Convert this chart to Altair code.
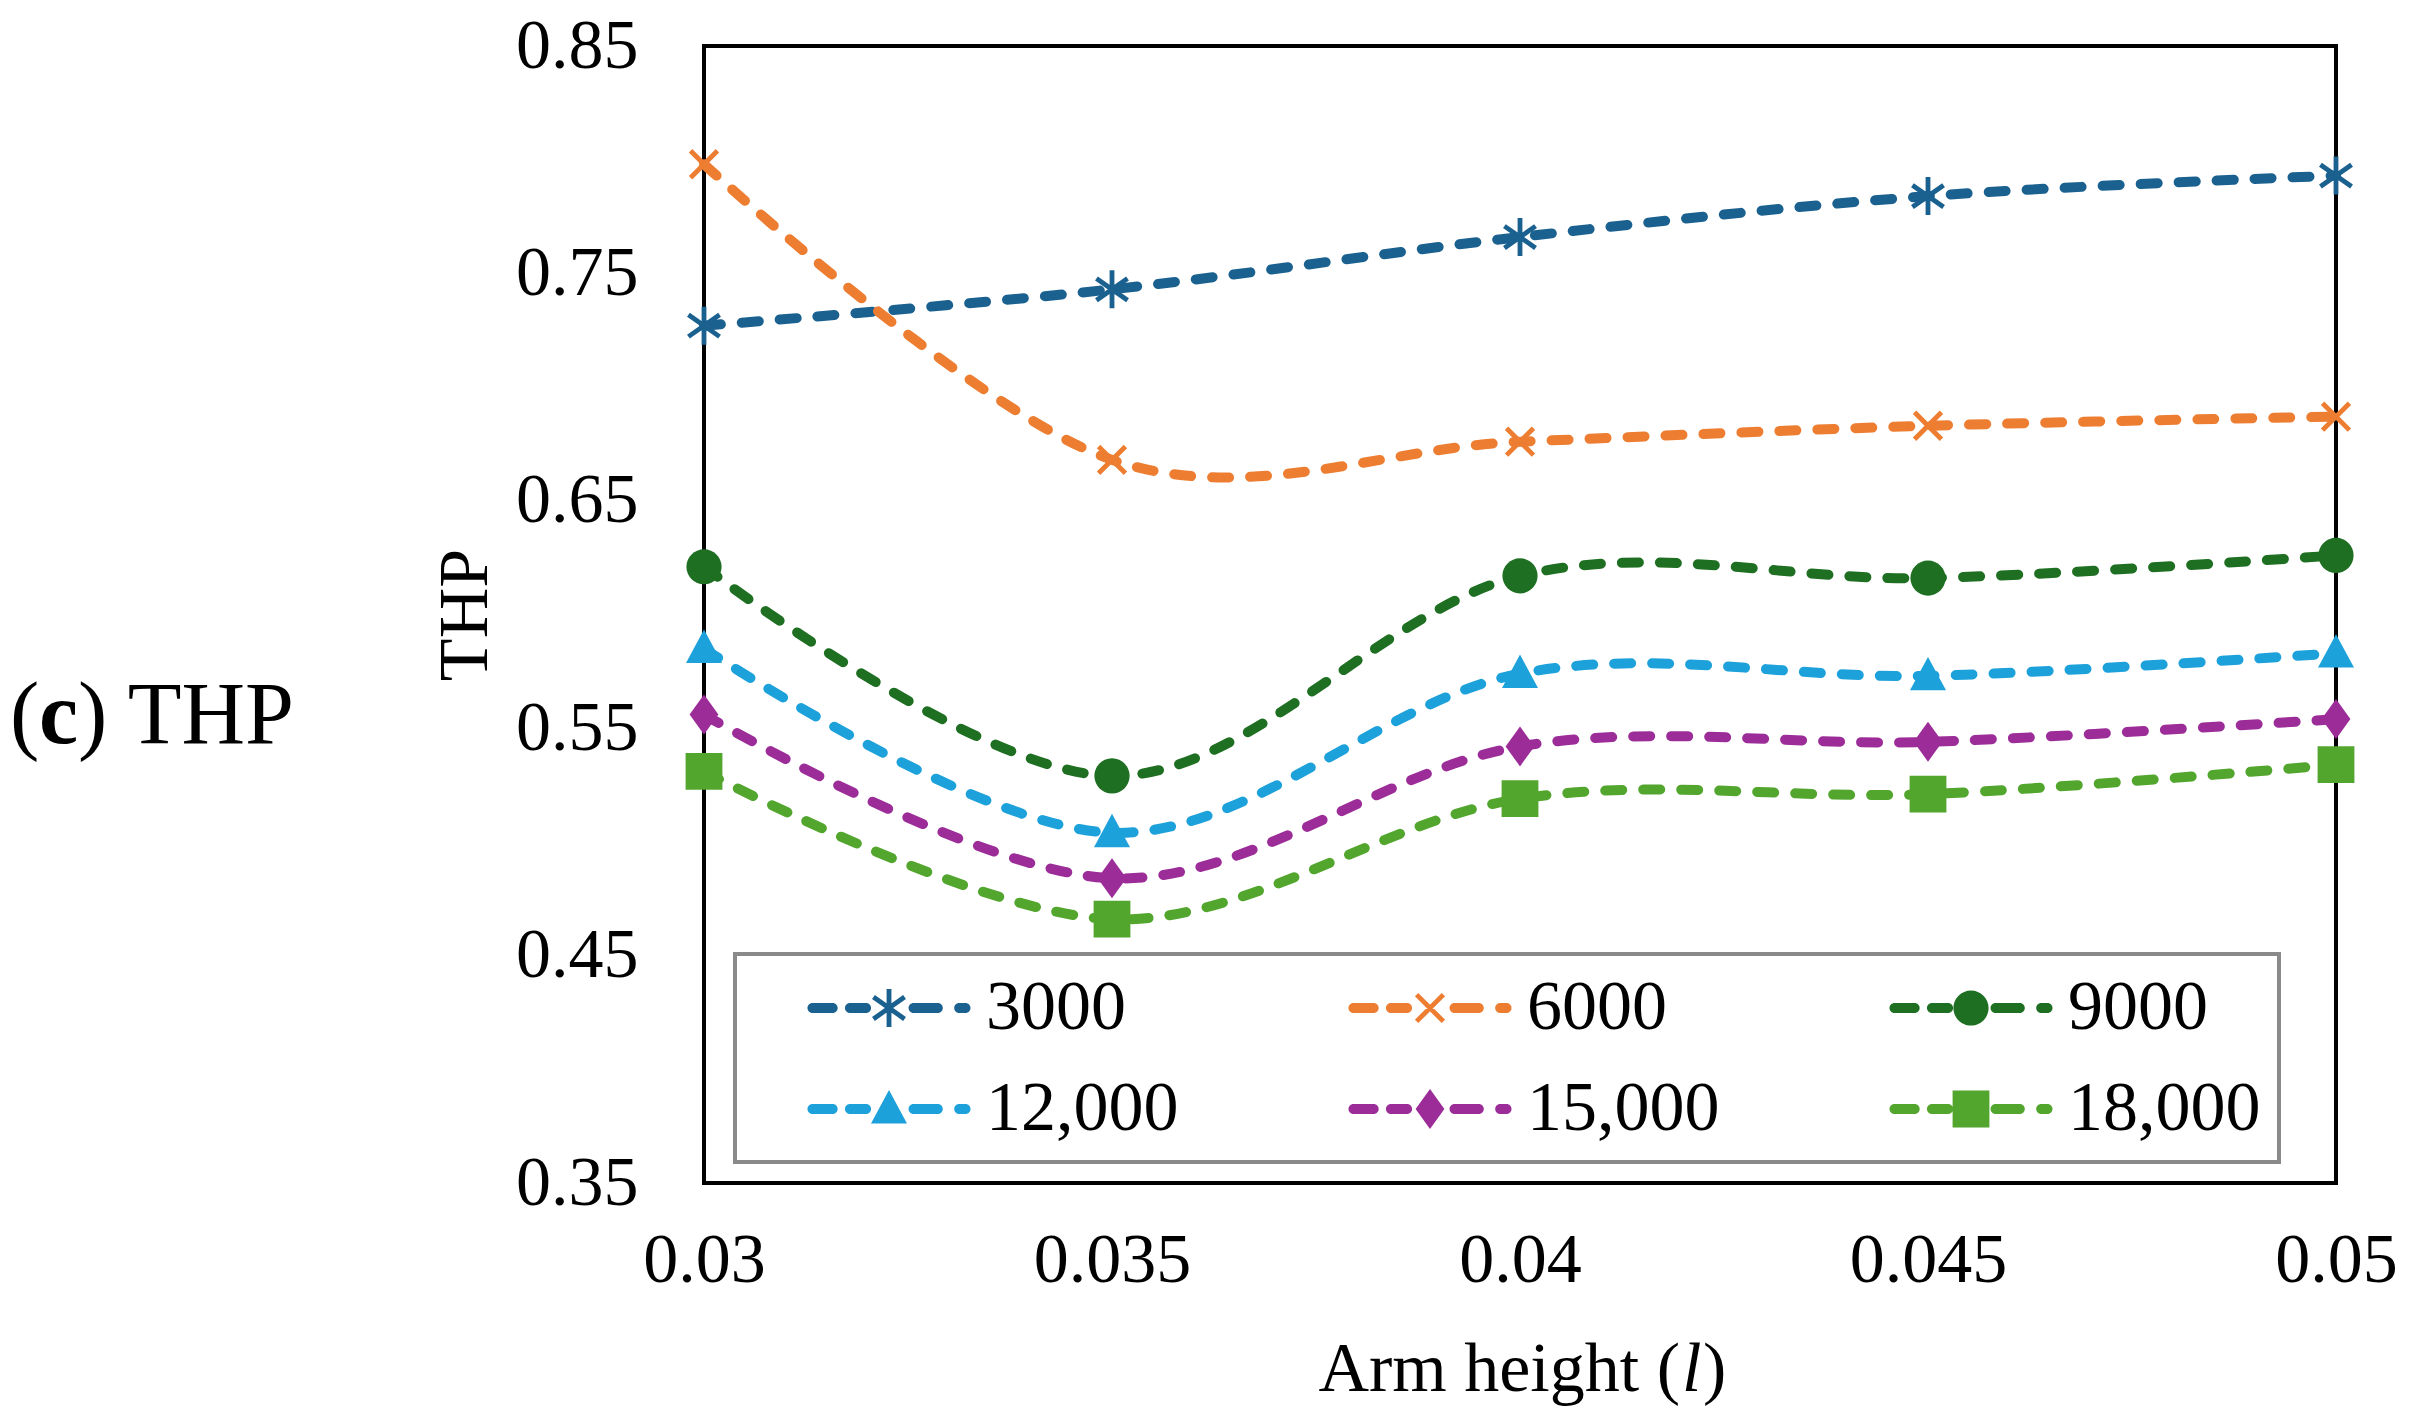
import math
import altair as alt
import pandas as pd


# Arm height (x) and THP per number of cycles
arm_height = [0.03, 0.035, 0.04, 0.045, 0.05]
series = ['3000', '6000', '9000', '12,000', '15,000', '18,000']
thp_3000 = [0.727, 0.743, 0.766, 0.784, 0.793]
thp_6000 = [0.798, 0.668, 0.676, 0.683, 0.687]
thp_9000 = [0.621, 0.529, 0.617, 0.616, 0.626]
thp_12000 = [0.585, 0.504, 0.574, 0.573, 0.583]
thp_15000 = [0.556, 0.484, 0.542, 0.544, 0.554]
thp_18000 = [0.531, 0.466, 0.519, 0.521, 0.534]
y_ticks = [0.35, 0.45, 0.55, 0.65, 0.75, 0.85]

colors = ['#1A6190', '#ED7D31', '#1E6F22', '#1DA1DB', '#9B2C98', '#52A62D']
markers = ['star', 'x', 'circle', 'triangle', 'diamond', 'square']

rows = []
for name, vals in zip(series, [thp_3000, thp_6000, thp_9000, thp_12000, thp_15000, thp_18000]):
  for x, v in zip(arm_height, vals):
    rows.append({'series': name, 'Series': name, 'arm': x, 'thp': v})
df = pd.DataFrame(rows)

FONT = 'Liberation Serif'
MARKER_SIZE = 1600          # 40 px marker box
LEGEND_SYMBOL_SIZE = 4900   # 70 px nominal legend symbol (path overflows it)
W, H = 1632, 1137


'''
Marker shapes as custom SVG paths (unit box -1..1)
'''
def f(v):
  return f'{v:.3f}'

def bar(angle, half_len, half_w, s=1.0):
  a = math.radians(angle)
  ca, sa = math.cos(a), math.sin(a)
  pts = [(-half_len, -half_w), (half_len, -half_w), (half_len, half_w), (-half_len, half_w)]
  pts = [((x * ca - y * sa) * s, (x * sa + y * ca) * s) for x, y in pts]
  return 'M' + ' L'.join(f'{f(x)},{f(y)}' for x, y in pts) + ' Z'

def poly(pts, s=1.0):
  return 'M' + ' L'.join(f'{f(x * s)},{f(y * s)}' for x, y in pts) + ' Z'

def marker_path(kind, s=1.0):
  if kind == 'star':
    return ' '.join(bar(a, 0.95, 0.12, s) for a in (90, 35, 145))
  if kind == 'x':
    return ' '.join(bar(a, 0.95, 0.12, s) for a in (45, 135))
  if kind == 'circle':
    r = 0.88 * s
    return f'M{f(r)},0 A{f(r)},{f(r)} 0 1,1 {f(-r)},0 A{f(r)},{f(r)} 0 1,1 {f(r)},0 Z'
  if kind == 'triangle':
    return poly([(0, -0.95), (0.9, 0.72), (-0.9, 0.72)], s)
  if kind == 'diamond':
    return poly([(0, -1.0), (0.72, 0), (0, 1.0), (-0.72, 0)], s)
  return poly([(-0.92, -0.92), (0.92, -0.92), (0.92, 0.92), (-0.92, 0.92)], s)

def dash(a, b, h):
  return (f'M{f(a + h)},{f(-h)} L{f(b - h)},{f(-h)} A{f(h)},{f(h)} 0 0,1 {f(b - h)},{f(h)} '
          f'L{f(a + h)},{f(h)} A{f(h)},{f(h)} 0 0,1 {f(a + h)},{f(-h)} Z')

'''
Legend symbol: "--marker--" drawn as one path, in pixels relative to a 70 px box
'''
def legend_path(kind):
  unit = math.sqrt(LEGEND_SYMBOL_SIZE) / 2
  half = 81.5 / unit
  h = 5 / unit
  spans = [(-1.0, -0.63), (-0.54, -0.22), (0.24, 0.66), (0.8, 1.0)]
  pieces = [dash(a * half, b * half, h) for a, b in spans]
  marker_scale = math.sqrt(MARKER_SIZE) / 2 / unit
  return ' '.join(pieces) + ' ' + marker_path(kind, marker_scale)


color_scale = alt.Scale(domain=series, range=colors)

x_enc = alt.X(
  'arm:Q',
  scale=alt.Scale(domain=[0.03, 0.05], nice=False, zero=False),
  axis=alt.Axis(
    values=arm_height, format='.3~f', labelFlush=False,
    title=None, labelPadding=43
  )
)
y_enc = alt.Y(
  'thp:Q',
  scale=alt.Scale(domain=[0.35, 0.85], nice=False, zero=False),
  axis=alt.Axis(
    values=y_ticks, format='.2f', title='THP',
    labelPadding=66, titlePadding=14
  )
)

base = alt.Chart(df)

lines = base.mark_line(
  interpolate='cardinal', strokeWidth=10, strokeDash=[17, 21], strokeCap='round'
).encode(
  x=x_enc, y=y_enc,
  color=alt.Color('series:N', scale=color_scale, legend=None),
  detail='series:N'
)

points = base.mark_point(filled=True, size=MARKER_SIZE, opacity=1).encode(
  x=x_enc, y=y_enc,
  color=alt.Color('series:N', scale=color_scale, legend=None),
  shape=alt.Shape(
    'series:N',
    scale=alt.Scale(domain=series, range=[marker_path(m) for m in markers]),
    legend=None
  )
)

legend_props = dict(
  title=None, orient='none', legendX=31, legendY=908, columns=3,
  direction='horizontal', columnPadding=115, rowPadding=30, padding=18,
  strokeColor='#8a8a8a', symbolSize=LEGEND_SYMBOL_SIZE, symbolOffset=100,
  labelOffset=61, labelFont=FONT, labelFontSize=70, labelColor='black',
  labelLimit=1000
)

legend_layer = base.mark_point(filled=True, opacity=1).encode(
  x=x_enc, y=y_enc,
  color=alt.Color(
    'Series:N', scale=alt.Scale(domain=series, range=colors),
    legend=alt.Legend(**legend_props)
  ),
  shape=alt.Shape(
    'Series:N',
    scale=alt.Scale(domain=series, range=[legend_path(m) for m in markers]),
    legend=alt.Legend(**legend_props)
  )
).transform_filter('false')

'''
Free text: panel label "(c) THP" and x-axis title with italic l
'''
lbl = pd.DataFrame({'t': ['(']})

def text(t, x, y, size=70, align='left', **kw):
  return alt.Chart(lbl).mark_text(
    text=t, font=FONT, fontSize=size, align=align, baseline='alphabetic',
    color='black', **kw
  ).encode(x=alt.value(x), y=alt.value(y))

panel = [
  text('(', -694, 697, 88),
  text('c', -665, 697, 88, fontWeight='bold'),
  text(') THP', -626, 697, 88),
]
x_title = [
  text('Arm height (', W / 2 + 160, H + 208, align='right'),
  text('l', W / 2 + 162, H + 208, fontStyle='italic'),
  text(')', W / 2 + 183, H + 208),
]

chart = alt.layer(
  lines, points, legend_layer, *panel, *x_title
).resolve_scale(
  color='independent', shape='independent'
).properties(
  width=W,
  height=H,
  autosize=alt.AutoSizeParams(type='none'),
  padding={'left': 696, 'top': 38, 'right': 67, 'bottom': 225}
).configure_axis(
  labelFont=FONT, labelFontSize=70, labelColor='black',
  titleFont=FONT, titleFontSize=70, titleFontWeight='normal', titleColor='black',
  grid=False, ticks=False, tickSize=0, domain=False
).configure_view(
  stroke='black', strokeWidth=4
).configure_legend(
  strokeWidth=4
)

chart.save('out.html', embed_options={'renderer': 'svg', 'actions': False})
